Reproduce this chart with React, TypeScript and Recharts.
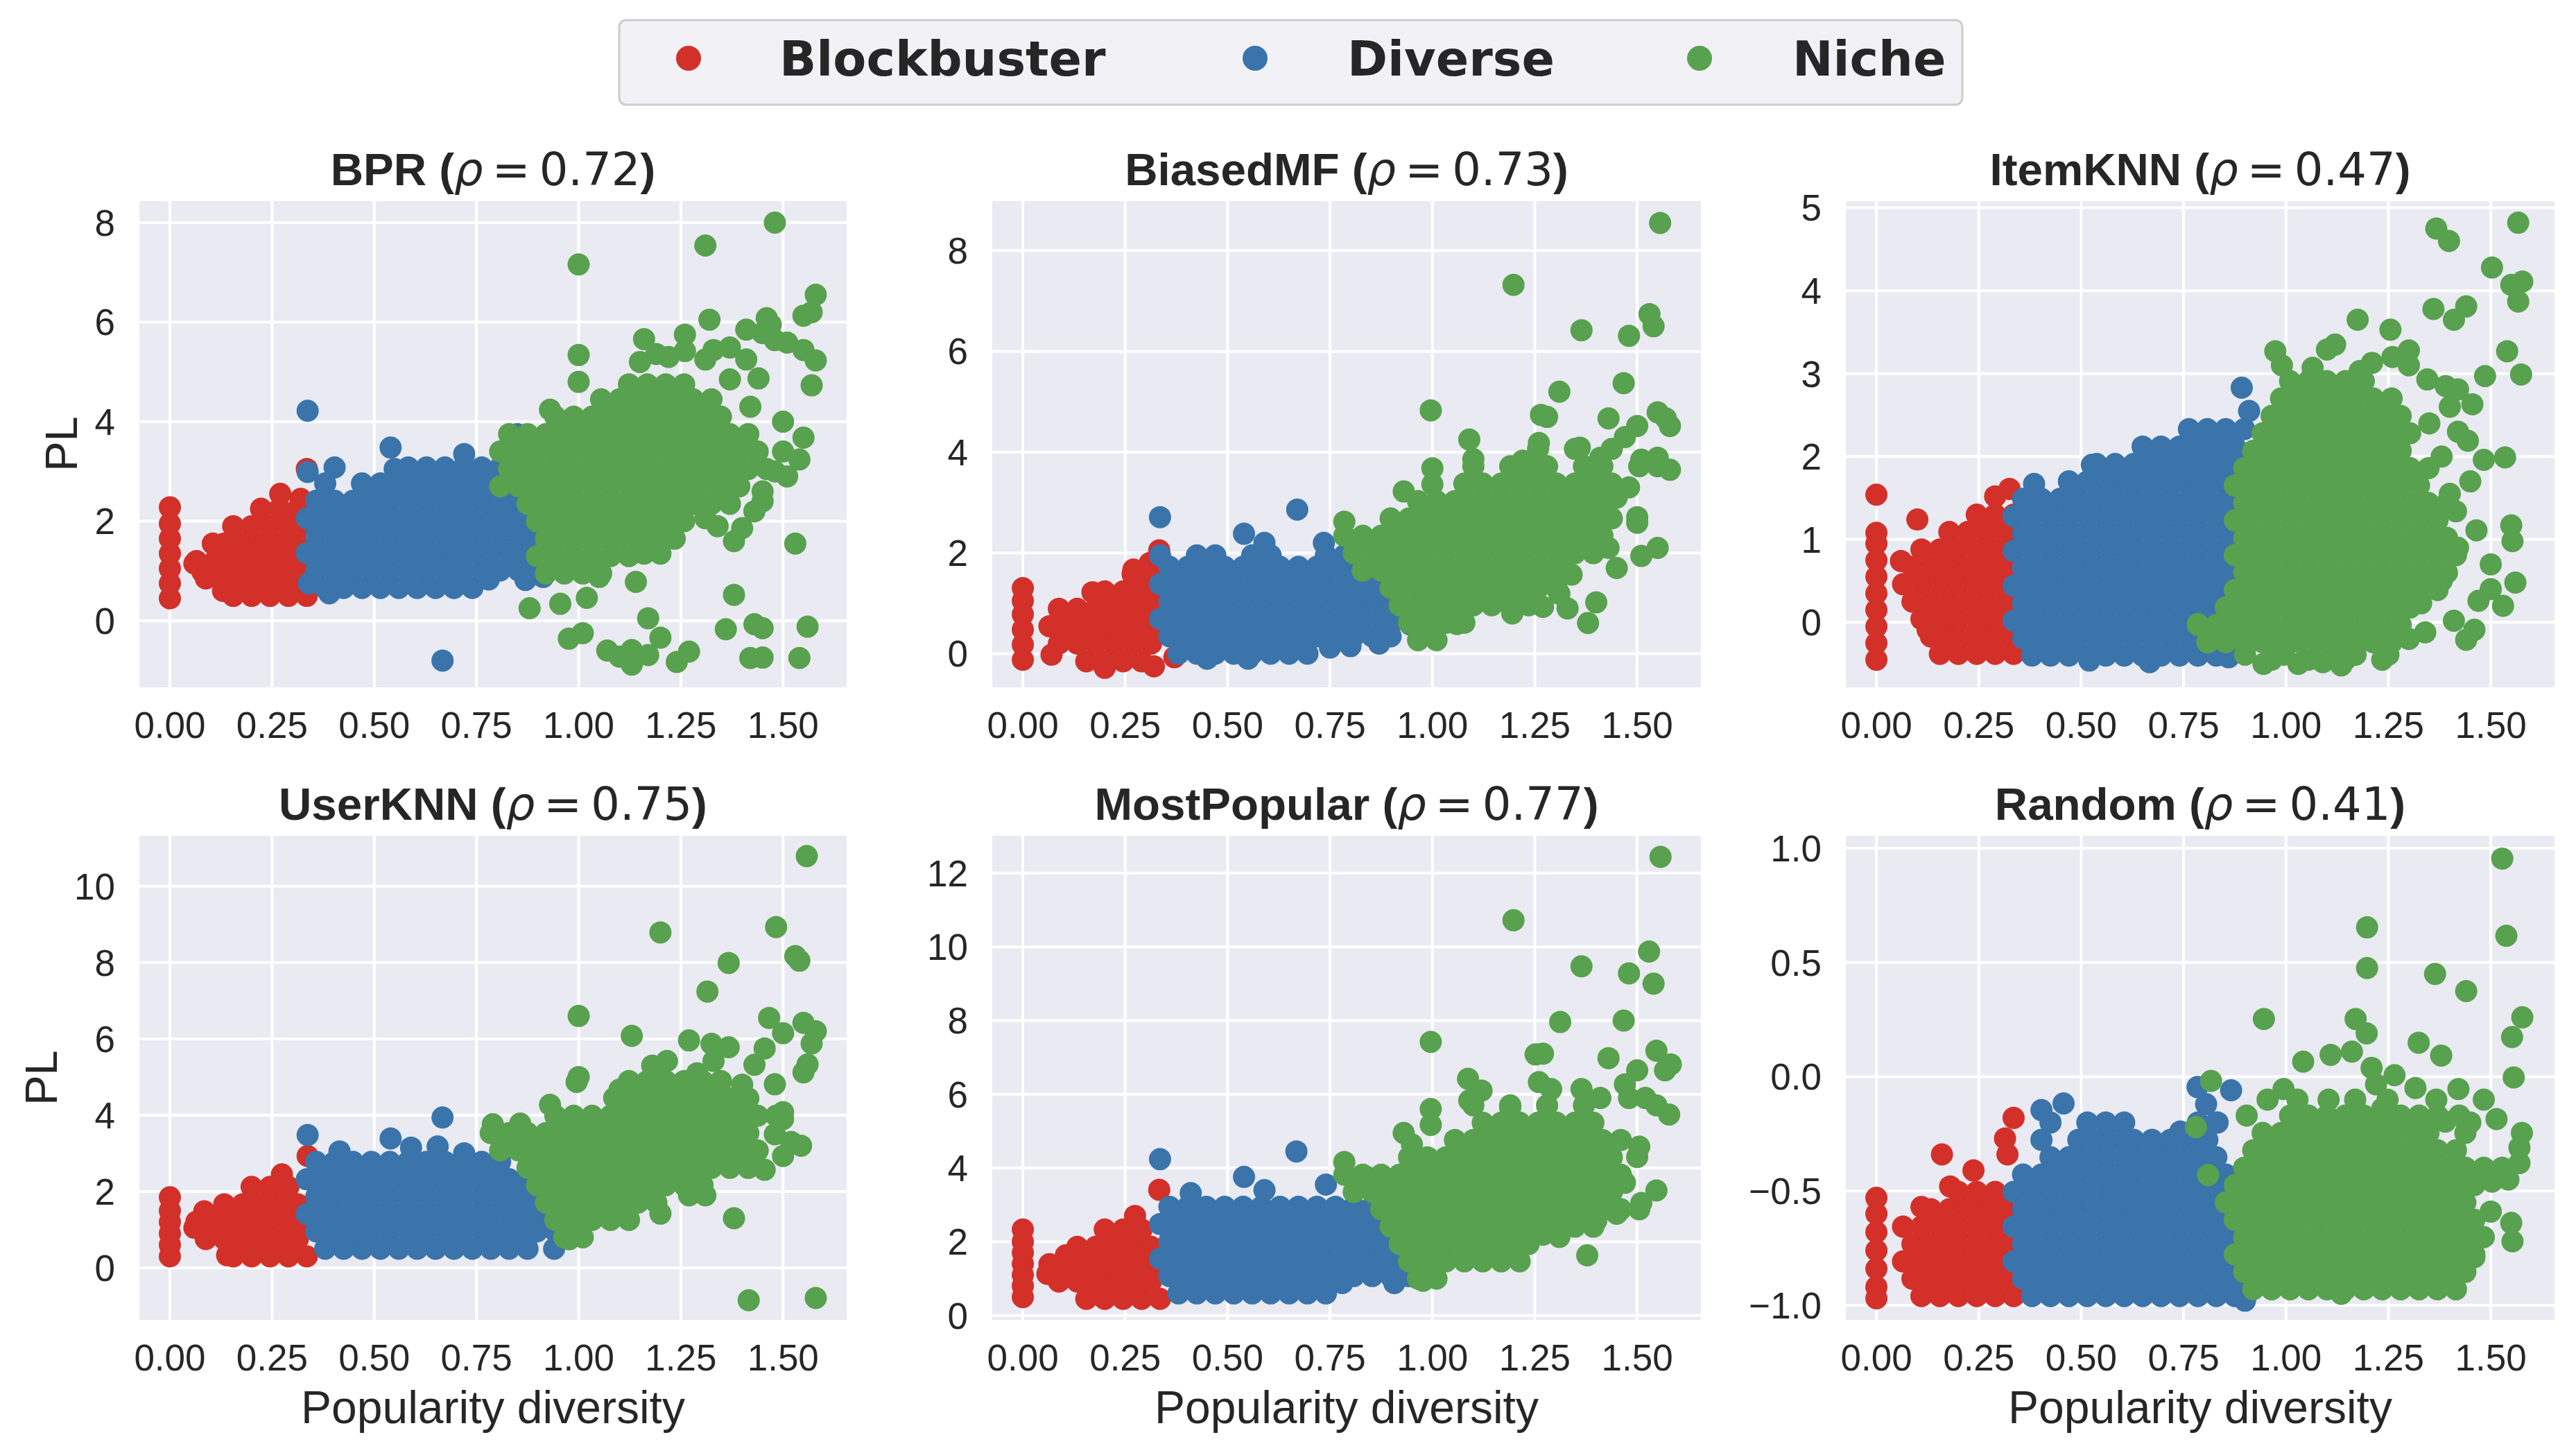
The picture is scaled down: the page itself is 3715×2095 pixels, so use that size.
import React from 'react';
import { ScatterChart, Scatter, XAxis, YAxis, CartesianGrid } from 'recharts';

const RED = '#d3302a';
const BLUE = '#3a74ab';
const GREEN = '#58a14e';
const TEXT = '#262626';
const R = 16;
const SANS = "'Liberation Sans', Arial, Helvetica, sans-serif";
const DEJAVU = "'DejaVu Sans', sans-serif";

const categories = ['Blockbuster', 'Diverse', 'Niche'];
const titles = ['BPR', 'BiasedMF', 'ItemKNN', 'UserKNN', 'MostPopular', 'Random'];
const rhos = ['0.72', '0.73', '0.47', '0.75', '0.77', '0.41'];
const xTicks = [0, 0.25, 0.5, 0.75, 1, 1.25, 1.5];
const xDomain = [-0.078, 1.659];

// Each row: [y, x1, x2, ...]; each pts list: x, y, x, y, ...

// ---- BPR ----
const bprYTicks = [0, 2, 4, 6, 8];
const bprRedRows = [
  [0.5, 0.155, 0.2, 0.245, 0.29, 0.335],
  [0.85, 0.088, 0.133, 0.178, 0.223, 0.268, 0.313],
  [1.2, 0.065, 0.11, 0.155, 0.2, 0.245, 0.29, 0.335],
  [1.55, 0.105, 0.133, 0.178, 0.223, 0.268, 0.313],
  [1.9, 0.155, 0.2, 0.245, 0.29, 0.335],
  [2.25, 0.223, 0.268, 0.313],
];
const bprRedPts = [0, 0.45, 0, 0.75, 0, 1.05, 0, 1.35, 0, 1.65, 0, 1.95, 0, 2.28, 0.27, 2.55, 0.335, 3.05, 0.32, 2.45, 0.13, 0.6, 0.08, 0.98, 0.06, 1.15];
const bprBlueRows = [
  [0.66, 0.38, 0.425, 0.47, 0.515, 0.56, 0.605, 0.65, 0.695, 0.74],
  [1.01, 0.358, 0.403, 0.448, 0.493, 0.538, 0.583, 0.628, 0.673, 0.718, 0.763, 0.808, 0.853, 0.898],
  [1.36, 0.335, 0.38, 0.425, 0.47, 0.515, 0.56, 0.605, 0.65, 0.695, 0.74, 0.785, 0.83, 0.875, 0.92],
  [1.71, 0.358, 0.403, 0.448, 0.493, 0.538, 0.583, 0.628, 0.673, 0.718, 0.763, 0.808, 0.853, 0.898],
  [2.06, 0.335, 0.38, 0.425, 0.47, 0.515, 0.56, 0.605, 0.65, 0.695, 0.74, 0.785, 0.83, 0.875],
  [2.41, 0.358, 0.403, 0.448, 0.493, 0.538, 0.583, 0.628, 0.673, 0.718, 0.763, 0.808, 0.853],
  [2.76, 0.38, 0.47, 0.515, 0.56, 0.605, 0.65, 0.695, 0.74, 0.785, 0.83],
  [3.08, 0.403, 0.583, 0.628, 0.673, 0.718, 0.763, 0.808],
];
const bprBluePts = [0.337, 2.99, 0.337, 4.22, 0.54, 3.48, 0.667, -0.8, 0.72, 3.35, 0.85, 3.75, 0.913, 0.88, 0.945, 1.22, 0.78, 0.83, 0.87, 0.82, 0.39, 0.55, 0.55, 3.05, 0.83, 3.4, 0.34, 0.75];
const bprGreenRows = [
  [0.95, 0.92, 0.965, 1.01, 1.055],
  [1.3, 0.898, 0.943, 0.988, 1.033, 1.078, 1.123],
  [1.65, 0.92, 0.965, 1.01, 1.055, 1.1, 1.145, 1.19, 1.235],
  [2.0, 0.898, 0.943, 0.988, 1.033, 1.078, 1.123, 1.168, 1.213, 1.258],
  [2.35, 0.875, 0.92, 0.965, 1.01, 1.055, 1.1, 1.145, 1.19, 1.235, 1.28, 1.325, 1.37],
  [2.7, 0.808, 0.853, 0.898, 0.943, 0.988, 1.033, 1.078, 1.123, 1.168, 1.213, 1.258, 1.303, 1.348, 1.393],
  [3.05, 0.83, 0.875, 0.92, 0.965, 1.01, 1.055, 1.1, 1.145, 1.19, 1.235, 1.28, 1.325, 1.37, 1.415, 1.46],
  [3.4, 0.808, 0.853, 0.898, 0.943, 0.988, 1.033, 1.078, 1.123, 1.168, 1.213, 1.258, 1.303, 1.348, 1.393, 1.438],
  [3.75, 0.83, 0.875, 0.92, 0.965, 1.01, 1.055, 1.1, 1.145, 1.19, 1.235, 1.28, 1.325, 1.37, 1.415],
  [4.1, 0.943, 0.988, 1.033, 1.078, 1.123, 1.168, 1.213, 1.258, 1.303, 1.348],
  [4.45, 1.055, 1.1, 1.145, 1.19, 1.235, 1.28, 1.325],
  [4.75, 1.123, 1.168, 1.213, 1.258],
];
const bprGreenPts = [
  1.48, 8.0, 1.31, 7.54, 1.0, 7.16, 1.58, 6.55, 1.57, 6.2, 1.55, 6.13, 1.32, 6.05, 1.46, 6.08, 1.47, 5.95, 1.41, 5.85,
  1.45, 5.78, 1.48, 5.64, 1.51, 5.59, 1.55, 5.44, 1.58, 5.23, 1.26, 5.75, 1.16, 5.66, 1.19, 5.36, 1.22, 5.3, 1.26, 5.42,
  1.31, 5.25, 1.33, 5.44, 1.37, 5.49, 1.41, 5.25, 1.15, 5.2, 1.0, 5.34, 1.0, 4.8, 1.37, 4.85, 1.44, 4.87, 1.57, 4.73,
  1.55, 3.68, 1.54, 3.24, 1.5, 4.0, 1.51, 2.9, 1.45, 2.6, 1.45, 2.4, 1.4, 1.86, 1.38, 1.6, 1.53, 1.55, 1.31, 2.06,
  1.38, 0.52, 1.14, 0.78, 1.02, 0.46, 0.955, 0.34, 0.88, 0.25, 1.17, 0.05, 0.976, -0.36, 1.01, -0.25, 1.07, -0.6, 1.1, -0.72,
  1.13, -0.59, 1.13, -0.88, 1.17, -0.69, 1.2, -0.34, 1.24, -0.83, 1.27, -0.62, 1.36, -0.17, 1.43, -0.07, 1.45, -0.15, 1.42, -0.75,
  1.45, -0.74, 1.54, -0.75, 1.56, -0.12, 0.93, 4.24, 1.05, 0.88, 1.5, 3.4, 1.48, 3.0, 1.42, 4.3, 1.43, 2.2, 1.34, 1.9,
  1.2, 1.35, 1.16, 1.35, 1.05, 1.2,
];

// ---- BiasedMF ----
const mfYTicks = [0, 2, 4, 6, 8];
const mfRedRows = [
  [-0.15, 0.155, 0.2, 0.245, 0.29],
  [0.2, 0.088, 0.133, 0.178, 0.223, 0.268, 0.313],
  [0.545, 0.065, 0.11, 0.155, 0.2, 0.245, 0.29, 0.335],
  [0.89, 0.088, 0.133, 0.178, 0.223, 0.268, 0.313],
  [1.235, 0.2, 0.245, 0.29, 0.335],
  [1.58, 0.268, 0.313],
];
const mfRedPts = [0, -0.12, 0, 0.18, 0, 0.48, 0, 0.78, 0, 1.05, 0, 1.3, 0.333, 2.05, 0.2, -0.28, 0.32, -0.25, 0.37, -0.07, 0.07, -0.02, 0.27, 1.67, 0.31, 1.8, 0.17, 1.22];
const mfBlueRows = [
  [0.0, 0.38, 0.425, 0.47, 0.515, 0.56, 0.605, 0.65, 0.695],
  [0.345, 0.358, 0.403, 0.448, 0.493, 0.538, 0.583, 0.628, 0.673, 0.718, 0.763, 0.808, 0.853, 0.898],
  [0.69, 0.335, 0.38, 0.425, 0.47, 0.515, 0.56, 0.605, 0.65, 0.695, 0.74, 0.785, 0.83, 0.875, 0.92],
  [1.035, 0.358, 0.403, 0.448, 0.493, 0.538, 0.583, 0.628, 0.673, 0.718, 0.763, 0.808, 0.853, 0.898],
  [1.38, 0.335, 0.38, 0.425, 0.47, 0.515, 0.56, 0.605, 0.65, 0.695, 0.74, 0.785, 0.83, 0.875],
  [1.725, 0.358, 0.403, 0.448, 0.493, 0.538, 0.583, 0.628, 0.673, 0.718, 0.763, 0.808, 0.853],
  [1.95, 0.335, 0.425, 0.47, 0.56, 0.605, 0.74, 0.785],
];
const mfBluePts = [0.335, 2.71, 0.54, 2.38, 0.67, 2.86, 0.59, 2.2, 0.735, 2.2, 0.946, 0.58, 0.75, 0.12, 0.55, -0.1, 0.45, -0.1, 0.87, 0.2, 0.87, 1.77, 0.8, 2.05, 0.8, 0.15];
const mfGreenRows = [
  [0.27, 0.965, 1.01],
  [0.615, 0.943, 0.988, 1.033, 1.078],
  [0.96, 0.92, 0.965, 1.01, 1.055, 1.1, 1.145, 1.19, 1.235],
  [1.305, 0.898, 0.943, 0.988, 1.033, 1.078, 1.123, 1.168, 1.213, 1.258, 1.303],
  [1.65, 0.83, 0.875, 0.92, 0.965, 1.01, 1.055, 1.1, 1.145, 1.19, 1.235, 1.28, 1.325],
  [1.995, 0.808, 0.853, 0.898, 0.943, 0.988, 1.033, 1.078, 1.123, 1.168, 1.213, 1.258, 1.303, 1.348, 1.393],
  [2.34, 0.785, 0.83, 0.875, 0.92, 0.965, 1.01, 1.055, 1.1, 1.145, 1.19, 1.235, 1.28, 1.325, 1.37, 1.415],
  [2.685, 0.898, 0.943, 0.988, 1.033, 1.078, 1.123, 1.168, 1.213, 1.258, 1.303, 1.348, 1.393, 1.438],
  [3.03, 0.965, 1.01, 1.055, 1.1, 1.145, 1.19, 1.235, 1.28, 1.325, 1.37, 1.415],
  [3.375, 1.078, 1.123, 1.168, 1.213, 1.258, 1.303, 1.348, 1.393, 1.438],
  [3.72, 1.1, 1.19, 1.235, 1.28, 1.37, 1.415, 1.505, 1.55],
  [4.065, 1.258, 1.348, 1.438],
];
const mfGreenPts = [
  1.556, 8.55, 1.198, 7.32, 1.53, 6.74, 1.54, 6.5, 1.364, 6.42, 1.48, 6.31, 1.467, 5.37, 1.31, 5.2, 0.996, 4.83, 1.265, 4.74,
  1.28, 4.7, 1.43, 4.67, 1.5, 4.52, 1.55, 4.79, 1.57, 4.67, 1.58, 4.52, 1.26, 4.18, 1.09, 4.25, 1.0, 3.68, 1.0, 3.36,
  0.93, 3.22, 1.1, 3.86, 1.22, 3.83, 1.36, 4.09, 1.41, 3.89, 1.47, 4.3, 1.51, 3.85, 1.55, 3.89, 1.58, 3.65, 1.5, 2.71,
  1.5, 2.6, 1.55, 2.1, 1.51, 1.94, 1.45, 1.7, 1.43, 2.1, 1.34, 1.57, 1.4, 1.02, 1.38, 0.61, 1.33, 0.9, 1.31, 1.19,
  1.27, 0.93, 1.195, 0.8, 1.06, 0.59, 0.785, 2.62, 1.45, 3.1, 1.48, 3.3,
];

// ---- ItemKNN ----
const ikYTicks = [0, 1, 2, 3, 4, 5];
const ikRedRows = [
  [-0.38, 0.155, 0.2, 0.245, 0.29, 0.335],
  [-0.17, 0.133, 0.178, 0.223, 0.268, 0.313],
  [0.04, 0.11, 0.155, 0.2, 0.245, 0.29, 0.335],
  [0.25, 0.088, 0.133, 0.178, 0.223, 0.268, 0.313],
  [0.46, 0.065, 0.11, 0.155, 0.2, 0.245, 0.29, 0.335],
  [0.67, 0.088, 0.133, 0.178, 0.223, 0.268, 0.313],
  [0.88, 0.11, 0.155, 0.2, 0.245, 0.29, 0.335],
  [1.09, 0.178, 0.223, 0.268, 0.313],
  [1.3, 0.245, 0.29, 0.335],
];
const ikRedPts = [0, -0.45, 0, -0.25, 0, -0.05, 0, 0.15, 0, 0.35, 0, 0.55, 0, 0.75, 0, 0.95, 0, 1.08, 0, 1.54, 0.1, 1.24, 0.29, 1.52, 0.325, 1.61, 0.06, 0.74, 0.125, -0.09];
const ikBlueRows = [
  [-0.4, 0.38, 0.425, 0.47, 0.515, 0.56, 0.605, 0.65, 0.695, 0.74, 0.785, 0.83],
  [-0.19, 0.358, 0.403, 0.448, 0.493, 0.538, 0.583, 0.628, 0.673, 0.718, 0.763, 0.808, 0.853],
  [0.02, 0.335, 0.38, 0.425, 0.47, 0.515, 0.56, 0.605, 0.65, 0.695, 0.74, 0.785, 0.83, 0.875, 0.92],
  [0.23, 0.358, 0.403, 0.448, 0.493, 0.538, 0.583, 0.628, 0.673, 0.718, 0.763, 0.808, 0.853, 0.898],
  [0.44, 0.335, 0.38, 0.425, 0.47, 0.515, 0.56, 0.605, 0.65, 0.695, 0.74, 0.785, 0.83, 0.875, 0.92],
  [0.65, 0.358, 0.403, 0.448, 0.493, 0.538, 0.583, 0.628, 0.673, 0.718, 0.763, 0.808, 0.853, 0.898],
  [0.86, 0.335, 0.38, 0.425, 0.47, 0.515, 0.56, 0.605, 0.65, 0.695, 0.74, 0.785, 0.83, 0.875, 0.92],
  [1.07, 0.358, 0.403, 0.448, 0.493, 0.538, 0.583, 0.628, 0.673, 0.718, 0.763, 0.808, 0.853, 0.898],
  [1.28, 0.335, 0.38, 0.425, 0.47, 0.515, 0.56, 0.605, 0.65, 0.695, 0.74, 0.785, 0.83, 0.875, 0.92],
  [1.49, 0.358, 0.403, 0.448, 0.493, 0.538, 0.583, 0.628, 0.673, 0.718, 0.763, 0.808, 0.853, 0.898],
  [1.7, 0.47, 0.515, 0.56, 0.605, 0.65, 0.695, 0.74, 0.785, 0.83, 0.875],
  [1.91, 0.538, 0.583, 0.628, 0.673, 0.718, 0.763, 0.808, 0.853, 0.898],
  [2.12, 0.65, 0.695, 0.74, 0.785, 0.83, 0.875],
  [2.33, 0.763, 0.808, 0.853, 0.898],
];
const ikBluePts = [0.892, 2.83, 0.91, 2.55, 0.92, 2.04, 0.95, 0.0, 0.87, -0.06, 0.385, 1.67, 0.526, 1.9, 0.9, -0.3, 0.52, -0.46, 0.667, -0.48, 0.86, -0.42];
const ikGreenRows = [
  [-0.45, 0.965, 1.055, 1.1, 1.145, 1.235],
  [-0.24, 0.808, 0.853, 0.898, 0.943, 0.988, 1.033, 1.078, 1.123, 1.168, 1.213, 1.258],
  [-0.03, 0.785, 0.83, 0.875, 0.92, 0.965, 1.01, 1.055, 1.1, 1.145, 1.19, 1.235, 1.28],
  [0.18, 0.853, 0.898, 0.943, 0.988, 1.033, 1.078, 1.123, 1.168, 1.213, 1.258, 1.303],
  [0.39, 0.875, 0.92, 0.965, 1.01, 1.055, 1.1, 1.145, 1.19, 1.235, 1.28, 1.325, 1.37],
  [0.6, 0.898, 0.943, 0.988, 1.033, 1.078, 1.123, 1.168, 1.213, 1.258, 1.303, 1.348, 1.393],
  [0.81, 0.875, 0.92, 0.965, 1.01, 1.055, 1.1, 1.145, 1.19, 1.235, 1.28, 1.325, 1.37, 1.415],
  [1.02, 0.898, 0.943, 0.988, 1.033, 1.078, 1.123, 1.168, 1.213, 1.258, 1.303, 1.348, 1.393],
  [1.23, 0.875, 0.92, 0.965, 1.01, 1.055, 1.1, 1.145, 1.19, 1.235, 1.28, 1.325, 1.37],
  [1.44, 0.898, 0.943, 0.988, 1.033, 1.078, 1.123, 1.168, 1.213, 1.258, 1.303, 1.348, 1.393],
  [1.65, 0.875, 0.92, 0.965, 1.01, 1.055, 1.1, 1.145, 1.19, 1.235, 1.28, 1.325],
  [1.86, 0.898, 0.943, 0.988, 1.033, 1.078, 1.123, 1.168, 1.213, 1.258, 1.303, 1.348],
  [2.07, 0.92, 0.965, 1.01, 1.055, 1.1, 1.145, 1.19, 1.235, 1.28],
  [2.28, 0.943, 0.988, 1.033, 1.078, 1.123, 1.168, 1.213, 1.258, 1.303],
  [2.49, 0.965, 1.01, 1.055, 1.1, 1.145, 1.19, 1.235, 1.28],
  [2.7, 0.988, 1.033, 1.078, 1.123, 1.168, 1.213, 1.258],
  [2.91, 1.01, 1.055, 1.1, 1.145, 1.19],
];
const ikGreenPts = [
  1.367, 4.75, 1.398, 4.6, 1.567, 4.82, 1.503, 4.28, 1.55, 4.07, 1.577, 4.11, 1.567, 3.87, 1.36, 3.78, 1.41, 3.65, 1.44, 3.81,
  1.175, 3.65, 1.255, 3.53, 0.974, 3.27, 0.99, 3.1, 1.065, 3.07, 1.1, 3.29, 1.12, 3.35, 1.18, 3.03, 1.21, 3.13, 1.26, 3.2,
  1.3, 3.28, 1.3, 3.1, 1.345, 2.93, 1.39, 2.85, 1.42, 2.81, 1.455, 2.63, 1.4, 2.6, 1.486, 2.97, 1.54, 3.27, 1.574, 2.99,
  1.535, 1.99, 1.444, 2.19, 1.483, 1.96, 1.55, 1.17, 1.553, 0.98, 1.56, 0.48, 1.53, 0.2, 1.5, 0.4, 1.5, 0.7, 1.47, 0.26,
  1.46, -0.09, 1.44, -0.21, 1.41, 0.02, 1.34, -0.12, 1.33, 0.23, 1.415, 1.34, 1.465, 1.11, 1.45, 1.7, 1.42, 2.3, 1.38, 2.0,
  0.785, -0.02, 0.81, -0.24, 0.9, -0.39, 0.945, -0.5, 0.995, -0.39, 1.03, -0.5, 1.09, -0.48, 1.135, -0.52, 1.17, -0.39, 1.25, -0.39,
  1.3, -0.2, 1.38, 0.5, 1.42, 0.9, 1.35, 2.4, 1.4, 1.55,
];

// ---- UserKNN ----
const ukYTicks = [0, 2, 4, 6, 8, 10];
const ukRedRows = [
  [0.3, 0.155, 0.2, 0.245, 0.29, 0.335],
  [0.755, 0.088, 0.133, 0.178, 0.223, 0.268, 0.313],
  [1.21, 0.065, 0.11, 0.155, 0.2, 0.245, 0.29, 0.335],
  [1.665, 0.133, 0.178, 0.223, 0.268, 0.313],
  [2.12, 0.2, 0.245, 0.29],
];
const ukRedPts = [0, 0.3, 0, 0.6, 0, 0.9, 0, 1.2, 0, 1.5, 0, 1.85, 0.274, 2.45, 0.337, 2.93, 0.084, 1.48, 0.06, 1.05, 0.14, 0.33];
const ukBlueRows = [
  [0.5, 0.38, 0.425, 0.47, 0.515, 0.56, 0.605, 0.65, 0.695, 0.74, 0.785, 0.83, 0.875],
  [0.955, 0.358, 0.403, 0.448, 0.493, 0.538, 0.583, 0.628, 0.673, 0.718, 0.763, 0.808, 0.853, 0.898, 0.943],
  [1.41, 0.335, 0.38, 0.425, 0.47, 0.515, 0.56, 0.605, 0.65, 0.695, 0.74, 0.785, 0.83, 0.875, 0.92],
  [1.865, 0.358, 0.403, 0.448, 0.493, 0.538, 0.583, 0.628, 0.673, 0.718, 0.763, 0.808, 0.853, 0.898],
  [2.32, 0.335, 0.38, 0.425, 0.47, 0.515, 0.56, 0.605, 0.65, 0.695, 0.74, 0.785, 0.83, 0.875],
  [2.775, 0.358, 0.403, 0.448, 0.493, 0.538, 0.583, 0.628, 0.673, 0.718, 0.763, 0.808],
];
const ukBluePts = [0.337, 3.48, 0.54, 3.39, 0.667, 3.94, 0.59, 3.15, 0.84, 3.54, 0.946, 1.05, 0.94, 0.5, 0.415, 3.05, 0.655, 3.18, 0.72, 3.0];
const ukGreenRows = [
  [0.8, 0.965, 1.01],
  [1.255, 0.943, 0.988, 1.033, 1.078, 1.123],
  [1.71, 0.92, 0.965, 1.01, 1.055, 1.1, 1.145, 1.19],
  [2.165, 0.898, 0.943, 0.988, 1.033, 1.078, 1.123, 1.168, 1.213, 1.258, 1.303],
  [2.62, 0.875, 0.92, 0.965, 1.01, 1.055, 1.1, 1.145, 1.19, 1.235, 1.28, 1.325, 1.37, 1.415],
  [3.075, 0.808, 0.853, 0.898, 0.943, 0.988, 1.033, 1.078, 1.123, 1.168, 1.213, 1.258, 1.303, 1.348, 1.393, 1.438],
  [3.53, 0.785, 0.83, 0.875, 0.92, 0.965, 1.01, 1.055, 1.1, 1.145, 1.19, 1.235, 1.28, 1.325, 1.37, 1.415],
  [3.985, 0.943, 0.988, 1.033, 1.078, 1.123, 1.168, 1.213, 1.258, 1.303, 1.348, 1.393, 1.438, 1.483],
  [4.44, 1.1, 1.145, 1.19, 1.235, 1.28, 1.325, 1.37, 1.415],
  [4.895, 1.123, 1.168, 1.213, 1.258, 1.303, 1.348],
];
const ukGreenPts = [
  1.558, 10.79, 1.483, 8.93, 1.2, 8.79, 1.53, 8.17, 1.54, 8.05, 1.367, 7.99, 1.315, 7.24, 1.0, 6.6, 1.13, 6.08, 1.27, 5.96,
  1.325, 5.87, 1.367, 5.78, 1.466, 6.55, 1.5, 6.15, 1.55, 6.42, 1.58, 6.2, 1.57, 5.88, 1.455, 5.75, 1.56, 5.33, 1.55, 5.12,
  1.5, 4.08, 1.5, 3.9, 1.544, 3.2, 1.5, 2.93, 1.455, 2.57, 1.38, 1.3, 1.416, -0.85, 1.58, -0.79, 0.93, 4.27, 0.995, 4.87,
  1.0, 5.0, 1.087, 4.45, 1.1, 4.67, 1.18, 5.3, 1.216, 5.42, 1.29, 5.1, 1.33, 5.42, 1.43, 5.32, 1.48, 4.81, 1.31, 1.9,
  1.27, 1.9, 1.2, 1.42, 0.977, 0.75, 0.79, 3.76, 0.857, 3.78, 1.48, 3.5, 1.52, 3.3, 1.4, 4.8,
];

// ---- MostPopular ----
const mpYTicks = [0, 2, 4, 6, 8, 10, 12];
const mpRedRows = [
  [0.45, 0.155, 0.2, 0.245, 0.29, 0.335],
  [0.92, 0.088, 0.133, 0.178, 0.223, 0.268, 0.313],
  [1.39, 0.065, 0.11, 0.155, 0.2, 0.245, 0.29, 0.335],
  [1.86, 0.133, 0.178, 0.223, 0.268, 0.313],
  [2.33, 0.2, 0.245, 0.29],
];
const mpRedPts = [0, 0.5, 0, 0.8, 0, 1.1, 0, 1.4, 0, 1.7, 0, 2.0, 0, 2.33, 0.274, 2.7, 0.333, 3.41, 0.06, 1.13, 0.105, 1.63];
const mpBlueRows = [
  [0.6, 0.38, 0.425, 0.47, 0.515, 0.56, 0.605, 0.65, 0.695, 0.74],
  [1.07, 0.358, 0.403, 0.448, 0.493, 0.538, 0.583, 0.628, 0.673, 0.718, 0.763, 0.808, 0.853, 0.898, 0.943],
  [1.54, 0.335, 0.38, 0.425, 0.47, 0.515, 0.56, 0.605, 0.65, 0.695, 0.74, 0.785, 0.83, 0.875, 0.92],
  [2.01, 0.358, 0.403, 0.448, 0.493, 0.538, 0.583, 0.628, 0.673, 0.718, 0.763, 0.808, 0.853, 0.898],
  [2.48, 0.335, 0.38, 0.425, 0.47, 0.515, 0.56, 0.605, 0.65, 0.695, 0.74, 0.785, 0.83, 0.875],
  [2.95, 0.358, 0.403, 0.448, 0.493, 0.538, 0.583, 0.628, 0.673, 0.718, 0.763, 0.808, 0.853],
];
const mpBluePts = [0.335, 4.24, 0.54, 3.76, 0.668, 4.45, 0.59, 3.4, 0.41, 3.32, 0.74, 3.55, 0.84, 3.75, 0.95, 1.28, 0.907, 0.88, 0.78, 0.88, 0.87, 3.13];
const mpGreenRows = [
  [1.0, 0.965, 1.01],
  [1.47, 0.943, 0.988, 1.033, 1.078, 1.123, 1.168, 1.213],
  [1.94, 0.92, 0.965, 1.01, 1.055, 1.1, 1.145, 1.19, 1.235],
  [2.41, 0.898, 0.943, 0.988, 1.033, 1.078, 1.123, 1.168, 1.213, 1.258, 1.303, 1.348, 1.393],
  [2.88, 0.875, 0.92, 0.965, 1.01, 1.055, 1.1, 1.145, 1.19, 1.235, 1.28, 1.325, 1.37, 1.415, 1.46, 1.505],
  [3.35, 0.808, 0.853, 0.898, 0.943, 0.988, 1.033, 1.078, 1.123, 1.168, 1.213, 1.258, 1.303, 1.348, 1.393, 1.438],
  [3.82, 0.785, 0.83, 0.875, 0.92, 0.965, 1.01, 1.055, 1.1, 1.145, 1.19, 1.235, 1.28, 1.325, 1.37, 1.415, 1.46],
  [4.29, 0.943, 0.988, 1.033, 1.078, 1.123, 1.168, 1.213, 1.258, 1.303, 1.348, 1.393, 1.438],
  [4.76, 1.055, 1.1, 1.145, 1.19, 1.235, 1.28, 1.325, 1.37, 1.415, 1.46],
  [5.23, 1.123, 1.168, 1.213, 1.258, 1.303, 1.348, 1.393],
  [5.7, 1.1, 1.19, 1.28, 1.37],
];
const mpGreenPts = [
  1.557, 12.44, 1.198, 10.72, 1.529, 9.87, 1.364, 9.47, 1.48, 9.28, 1.54, 9.0, 1.312, 7.96, 1.467, 8.0, 0.996, 7.42, 1.252, 7.08,
  1.27, 7.1, 1.43, 6.98, 1.547, 7.18, 1.582, 6.81, 1.568, 6.65, 1.378, 1.63, 1.547, 3.39, 1.505, 4.58, 1.51, 3.05, 1.45, 2.76,
  1.4, 2.57, 0.93, 4.95, 0.95, 4.64, 0.996, 5.6, 0.996, 5.17, 1.09, 5.83, 1.087, 6.42, 1.12, 6.1, 1.19, 5.64, 1.26, 6.33,
  1.29, 6.14, 1.364, 6.14, 1.41, 5.9, 1.47, 6.27, 1.5, 6.65, 1.48, 5.9, 1.52, 5.9, 1.547, 5.7, 1.578, 5.45, 0.785, 4.16,
  1.31, 2.13, 1.27, 2.19, 1.13, 1.63, 1.2, 1.63, 0.977, 0.94, 1.5, 4.3, 1.47, 3.6,
];

// ---- Random ----
const rdYTicks = [-1, -0.5, 0, 0.5, 1];
const rdRedRows = [
  [-0.96, 0.11, 0.155, 0.2, 0.245, 0.29, 0.335],
  [-0.884, 0.088, 0.133, 0.178, 0.223, 0.268, 0.313],
  [-0.808, 0.065, 0.11, 0.155, 0.2, 0.245, 0.29, 0.335],
  [-0.732, 0.088, 0.133, 0.178, 0.223, 0.268, 0.313],
  [-0.656, 0.065, 0.11, 0.155, 0.2, 0.245, 0.29, 0.335],
  [-0.58, 0.133, 0.178, 0.223, 0.268, 0.313],
  [-0.504, 0.2, 0.245, 0.29],
];
const rdRedPts = [0, -0.53, 0, -0.6, 0, -0.68, 0, -0.76, 0, -0.84, 0, -0.92, 0, -0.97, 0.237, -0.41, 0.16, -0.34, 0.314, -0.27, 0.32, -0.34, 0.335, -0.18, 0.11, -0.57, 0.18, -0.48];
const rdBlueRows = [
  [-0.96, 0.38, 0.425, 0.47, 0.515, 0.56, 0.605, 0.65, 0.695, 0.74, 0.785, 0.83, 0.875],
  [-0.884, 0.358, 0.403, 0.448, 0.493, 0.538, 0.583, 0.628, 0.673, 0.718, 0.763, 0.808, 0.853, 0.898],
  [-0.808, 0.335, 0.38, 0.425, 0.47, 0.515, 0.56, 0.605, 0.65, 0.695, 0.74, 0.785, 0.83, 0.875, 0.92],
  [-0.732, 0.358, 0.403, 0.448, 0.493, 0.538, 0.583, 0.628, 0.673, 0.718, 0.763, 0.808, 0.853, 0.898],
  [-0.656, 0.335, 0.38, 0.425, 0.47, 0.515, 0.56, 0.605, 0.65, 0.695, 0.74, 0.785, 0.83, 0.875],
  [-0.58, 0.358, 0.403, 0.448, 0.493, 0.538, 0.583, 0.628, 0.673, 0.718, 0.763, 0.808, 0.853, 0.898],
  [-0.504, 0.335, 0.38, 0.425, 0.47, 0.515, 0.56, 0.605, 0.65, 0.695, 0.74, 0.785, 0.83, 0.875],
  [-0.428, 0.358, 0.403, 0.448, 0.493, 0.538, 0.583, 0.628, 0.673, 0.718, 0.763, 0.808, 0.853],
  [-0.352, 0.425, 0.47, 0.515, 0.56, 0.605, 0.65, 0.695, 0.74, 0.785, 0.83],
  [-0.276, 0.403, 0.493, 0.538, 0.583, 0.628, 0.673, 0.718, 0.763, 0.808],
  [-0.2, 0.425, 0.515, 0.56, 0.605, 0.785, 0.83],
];
const rdBluePts = [0.457, -0.117, 0.784, -0.045, 0.866, -0.059, 0.805, -0.12, 0.403, -0.146, 0.742, -0.24, 0.833, -0.2, 0.9, -0.98, 0.92, -0.88];
const rdGreenRows = [
  [-0.93, 0.92, 0.965, 1.01, 1.055, 1.1, 1.145, 1.19, 1.235, 1.28, 1.325, 1.37, 1.415],
  [-0.854, 0.898, 0.943, 0.988, 1.033, 1.078, 1.123, 1.168, 1.213, 1.258, 1.303, 1.348, 1.393, 1.438],
  [-0.778, 0.875, 0.92, 0.965, 1.01, 1.055, 1.1, 1.145, 1.19, 1.235, 1.28, 1.325, 1.37, 1.415, 1.46],
  [-0.702, 0.898, 0.943, 0.988, 1.033, 1.078, 1.123, 1.168, 1.213, 1.258, 1.303, 1.348, 1.393, 1.438, 1.483],
  [-0.626, 0.875, 0.92, 0.965, 1.01, 1.055, 1.1, 1.145, 1.19, 1.235, 1.28, 1.325, 1.37, 1.415, 1.46],
  [-0.55, 0.853, 0.898, 0.943, 0.988, 1.033, 1.078, 1.123, 1.168, 1.213, 1.258, 1.303, 1.348, 1.393, 1.438],
  [-0.474, 0.875, 0.92, 0.965, 1.01, 1.055, 1.1, 1.145, 1.19, 1.235, 1.28, 1.325, 1.37, 1.415, 1.46],
  [-0.398, 0.898, 0.943, 0.988, 1.033, 1.078, 1.123, 1.168, 1.213, 1.258, 1.303, 1.348, 1.393, 1.438, 1.483, 1.528],
  [-0.322, 0.92, 0.965, 1.01, 1.055, 1.1, 1.145, 1.19, 1.235, 1.28, 1.325, 1.37, 1.415],
  [-0.246, 0.943, 0.988, 1.033, 1.078, 1.123, 1.168, 1.213, 1.258, 1.303, 1.348, 1.438],
  [-0.17, 0.904, 1.01, 1.055, 1.1, 1.145, 1.19, 1.235, 1.28, 1.325, 1.37, 1.423],
  [-0.1, 0.955, 1.028, 1.104, 1.169, 1.248, 1.367, 1.483],
];
const rdGreenPts = [
  1.528, 0.955, 1.538, 0.617, 1.198, 0.654, 1.198, 0.476, 1.364, 0.45, 1.44, 0.375, 0.946, 0.253, 1.17, 0.253, 1.197, 0.19, 1.577, 0.26,
  1.552, 0.174, 1.324, 0.149, 1.379, 0.093, 1.042, 0.066, 1.109, 0.096, 1.161, 0.11, 1.209, 0.039, 1.265, 0.007, 1.556, -0.003,
  1.421, -0.054, 0.994, -0.054, 0.817, -0.018, 1.22, -0.033, 1.316, -0.049, 1.235, -0.14,
  1.55, -0.64, 1.553, -0.72, 1.5, -0.59, 1.543, -0.45, 1.503, -0.459, 1.57, -0.378, 1.57, -0.31, 1.576, -0.246, 1.514, -0.185,
  1.46, -0.79, 1.4, -0.91, 1.135, -0.95, 0.78, -0.22, 0.81, -0.43, 1.29, -0.9, 1.21, -0.91, 1.389, -0.196, 1.45, -0.2,
];

type Pt = { x: number; y: number };
function build(rows: number[][], pts: number[]): Pt[] {
  const out: Pt[] = [];
  rows.forEach((r) => r.slice(1).forEach((x) => out.push({ x, y: r[0] })));
  for (let i = 0; i < pts.length; i += 2) out.push({ x: pts[i], y: pts[i + 1] });
  return out;
}

const fmtInt = (v: number) => String(v);
const fmtOne = (v: number) => (v < 0 ? '\u2212' : '') + Math.abs(v).toFixed(1);

const YW = 160;
const XH = 130;
const MT = 40;

const panels = [
  { i: 0, left: 199, top: 288, w: 1024, h: 705, yDomain: [-1.366, 8.46], yTicks: bprYTicks, fmt: fmtInt,
    red: build(bprRedRows, bprRedPts), blue: build(bprBlueRows, bprBluePts), green: build(bprGreenRows, bprGreenPts) },
  { i: 1, left: 1429, top: 288, w: 1026, h: 705, yDomain: [-0.695, 9.01], yTicks: mfYTicks, fmt: fmtInt,
    red: build(mfRedRows, mfRedPts), blue: build(mfBlueRows, mfBluePts), green: build(mfGreenRows, mfGreenPts) },
  { i: 2, left: 2660, top: 288, w: 1026, h: 705, yDomain: [-0.8, 5.097], yTicks: ikYTicks, fmt: fmtInt,
    red: build(ikRedRows, ikRedPts), blue: build(ikBlueRows, ikBluePts), green: build(ikGreenRows, ikGreenPts) },
  { i: 3, left: 199, top: 1203, w: 1024, h: 702, yDomain: [-1.4, 11.36], yTicks: ukYTicks, fmt: fmtInt,
    red: build(ukRedRows, ukRedPts), blue: build(ukBlueRows, ukBluePts), green: build(ukGreenRows, ukGreenPts) },
  { i: 4, left: 1429, top: 1203, w: 1026, h: 702, yDomain: [-0.156, 13.05], yTicks: mpYTicks, fmt: fmtInt,
    red: build(mpRedRows, mpRedPts), blue: build(mpBlueRows, mpBluePts), green: build(mpGreenRows, mpGreenPts) },
  { i: 5, left: 2660, top: 1203, w: 1026, h: 702, yDomain: [-1.07, 1.061], yTicks: rdYTicks, fmt: fmtOne,
    red: build(rdRedRows, rdRedPts), blue: build(rdBlueRows, rdBluePts), green: build(rdGreenRows, rdGreenPts) },
];

const dot = (color: string) => (p: any) => <circle cx={p.cx} cy={p.cy} r={R} fill={color} />;

const tickStyle = { fill: TEXT, fontSize: 53, fontFamily: SANS };

function Panel({ p }: { p: any }) {
  return (
    <div style={{ position: 'absolute', left: p.left - YW, top: p.top - MT }}>
      <ScatterChart width={p.w + YW} height={p.h + XH + MT} margin={{ top: MT, right: 0, bottom: 0, left: 0 }}>
        <CartesianGrid fill="#eaeaf2" stroke="#ffffff" strokeWidth={4} />
        <XAxis type="number" dataKey="x" domain={xDomain} ticks={xTicks} interval={0}
          tickFormatter={(v: number) => v.toFixed(2)} axisLine={false} tickLine={false}
          tickSize={0} tickMargin={33} height={XH} tick={tickStyle} />
        <YAxis type="number" dataKey="y" domain={p.yDomain} ticks={p.yTicks} interval={0}
          tickFormatter={p.fmt} axisLine={false} tickLine={false}
          tickSize={0} tickMargin={33} width={YW} tick={tickStyle} />
        <Scatter name={categories[0]} data={p.red} fill={RED} shape={dot(RED)} isAnimationActive={false} />
        <Scatter name={categories[1]} data={p.blue} fill={BLUE} shape={dot(BLUE)} isAnimationActive={false} />
        <Scatter name={categories[2]} data={p.green} fill={GREEN} shape={dot(GREEN)} isAnimationActive={false} />
      </ScatterChart>
    </div>
  );
}

const legendDots = [993, 1810, 2451];
const legendText = [1124, 1943, 2585];
const legendColors = [RED, BLUE, GREEN];

export default function App() {
  return (
    <div style={{ position: 'absolute', left: 0, top: 0, width: 3715, height: 2095, background: '#ffffff', overflow: 'hidden' }}>
      {panels.map((p) => <Panel key={p.i} p={p} />)}
      <svg width={3715} height={2095} style={{ position: 'absolute', left: 0, top: 0, pointerEvents: 'none' }}>
        <rect x={893} y={29} width={1937} height={122} rx={10} ry={10} fill="#f2f2f6" stroke="#cccccc" strokeWidth={3} />
        {categories.map((c, k) => (
          <g key={c}>
            <circle cx={legendDots[k]} cy={84} r={18} fill={legendColors[k]} />
            <text x={legendText[k]} y={109} fontFamily={DEJAVU} fontWeight="bold" fontSize={70} fill={TEXT}>{c}</text>
          </g>
        ))}
        {panels.map((p) => (
          <text key={'t' + p.i} x={p.left + p.w / 2} y={p.top - 21} textAnchor="middle" fontFamily={SANS} fontSize={65.5} fill={TEXT}>
            <tspan fontWeight="bold">{titles[p.i] + ' ('}</tspan>
            <tspan fontStyle="italic" fontFamily={DEJAVU}>{'\u03C1'}</tspan>
            <tspan fontFamily={DEJAVU}>{'\u2009=\u2009' + rhos[p.i]}</tspan>
            <tspan fontWeight="bold">)</tspan>
          </text>
        ))}
        <text transform="translate(88,640) rotate(-90)" textAnchor="middle" dy="0.36em" fontFamily={SANS} fontSize={65} fill={TEXT}>PL</text>
        <text transform="translate(59,1554) rotate(-90)" textAnchor="middle" dy="0.36em" fontFamily={SANS} fontSize={65} fill={TEXT}>PL</text>
        {panels.filter((p) => p.i >= 3).map((p) => (
          <text key={'x' + p.i} x={p.left + p.w / 2} y={2052} textAnchor="middle" fontFamily={SANS} fontSize={66} fill={TEXT}>Popularity diversity</text>
        ))}
      </svg>
    </div>
  );
}
